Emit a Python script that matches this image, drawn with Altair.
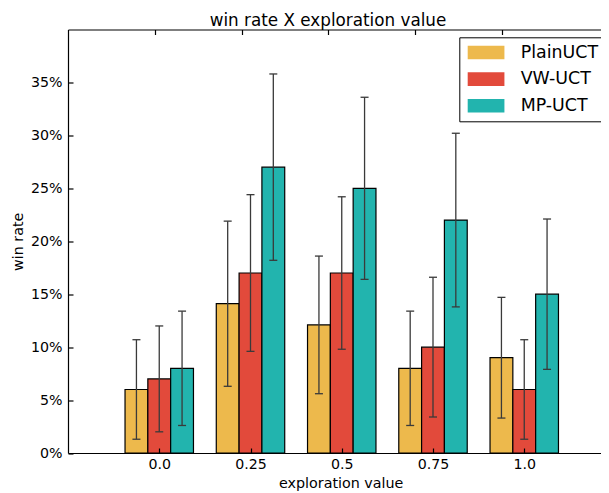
import json
import altair as alt
import pandas as pd

# ---- data ----
explore = [0.0, 0.25, 0.5, 0.75, 1.0]
explore_labels = ["0.0", "0.25", "0.5", "0.75", "1.0"]
methods = ["PlainUCT", "VW-UCT", "MP-UCT"]
colors = ["#EDB94C", "#E24A3B", "#22B4AE"]

plain = [6.0, 14.1, 12.1, 8.0, 9.0]
plain_lo = [1.3, 6.3, 5.6, 2.6, 3.3]
plain_hi = [10.7, 21.9, 18.6, 13.4, 14.7]

vw = [7.0, 17.0, 17.0, 10.0, 6.0]
vw_lo = [2.0, 9.6, 9.8, 3.4, 1.3]
vw_hi = [12.0, 24.4, 24.2, 16.6, 10.7]

mp = [8.0, 27.0, 25.0, 22.0, 15.0]
mp_lo = [2.6, 18.2, 16.4, 13.8, 7.9]
mp_hi = [13.4, 35.8, 33.6, 30.2, 22.1]

y_ticks = [0.0, 0.05, 0.10, 0.15, 0.20, 0.25, 0.30, 0.35]
top_ticks = [-0.0116, 0.2259, 0.4623, 0.7007, 0.9382]

# ---- layout ----
W, H = 533, 423.5
BAR_W = 0.0625
FONT = "DejaVu Sans"

series = [(plain, plain_lo, plain_hi), (vw, vw_lo, vw_hi), (mp, mp_lo, mp_hi)]
rows = []
for k, (name, (vals, los, his)) in enumerate(zip(methods, series)):
    for e, v, lo, hi in zip(explore, vals, los, his):
        xc = e + (k - 1) * BAR_W
        rows.append(dict(method=name, order=k, expl=e, xc=xc,
                         x0=xc - BAR_W / 2, x1=xc + BAR_W / 2,
                         rate=v / 100, lo=lo / 100, hi=hi / 100))
df = pd.DataFrame(rows)

xscale = alt.Scale(domain=[-0.25, -0.25 + W / 365.0], nice=False, zero=False)
yscale = alt.Scale(domain=[0, 0.4], nice=False)

label_expr = "{}[indexof({}, datum.value)]".format(json.dumps(explore_labels), json.dumps(explore))

base = alt.Chart(df)

bars = base.mark_bar(stroke="black", strokeWidth=1.2).encode(
    x=alt.X("x0:Q", scale=xscale,
            axis=alt.Axis(orient="bottom", values=explore, labelExpr=label_expr,
                          title="exploration value", ticks=False, grid=False,
                          domainColor="black", domainWidth=1.2, labelPadding=4,
                          titlePadding=5, titleX=272.7)),
    x2="x1:Q",
    y=alt.Y("rate:Q", scale=yscale,
            axis=alt.Axis(orient="left", values=y_ticks, format=".0%", ticks=False,
                          grid=False, title="win rate", domainColor="black",
                          domainWidth=1.2, labelPadding=6, titlePadding=5)),
    y2=alt.datum(0),
    color=alt.Color("method:N", scale=alt.Scale(domain=methods, range=colors),
                    legend=alt.Legend(
                        title=None, orient="none", legendX=391.3, legendY=7.8,
                        symbolType="M-1,-1H4.4V1H-1Z", symbolSize=185,
                        symbolStrokeWidth=0, labelFontSize=17.4, labelFont=FONT,
                        labelColor="black", labelOffset=37.5, rowPadding=7.6,
                        padding=6.5, strokeColor="black", fillColor="white",
                        cornerRadius=0)),
    order=alt.Order("order:Q"),
)

errs = base.mark_rule(color="#3a3a3a", strokeWidth=1.3).encode(
    x=alt.X("xc:Q", scale=xscale,
            axis=alt.Axis(orient="top", offset=-H, values=explore, labels=False,
                          domain=False, ticks=True, tickSize=5, tickColor="black",
                          tickWidth=1.2, grid=False, title=None, zindex=1)),
    y=alt.Y("lo:Q", scale=yscale,
            axis=alt.Axis(orient="right", offset=-W, values=y_ticks, labels=False,
                          domain=False, ticks=True, tickSize=5, tickColor="black",
                          tickWidth=1.2, grid=False, title=None, zindex=1)),
    y2="hi:Q",
)

caps = base.transform_fold(["lo", "hi"], as_=["end", "val"]).mark_tick(
    orient="horizontal", size=8, thickness=1.3, color="#3a3a3a", opacity=1
).encode(
    x=alt.X("xc:Q", scale=xscale,
            axis=alt.Axis(orient="bottom", offset=-H, values=top_ticks, labels=False,
                          domain=True, domainColor="black", domainWidth=1.2,
                          ticks=True, tickSize=5, tickColor="black", tickWidth=1.2,
                          grid=False, title=None, zindex=1)),
    y=alt.Y("val:Q", scale=yscale, axis=None),
)

chart = alt.layer(bars, errs, caps).resolve_scale(
    x="shared", y="shared"
).resolve_axis(
    x="independent", y="independent"
).properties(
    width=W, height=H,
    autosize=alt.AutoSizeParams(type="none"),
    padding={"left": 60, "top": 21.5, "right": 0, "bottom": 38},
    title=alt.TitleParams("win rate X exploration value", fontSize=16.8, font=FONT,
                          fontWeight="normal", color="black", anchor="middle",
                          dx=-6.5, dy=20, offset=6, baseline="alphabetic"),
).configure_view(stroke=None).configure_axis(
    labelFont=FONT, titleFont=FONT, labelFontSize=14.2, titleFontSize=14.3,
    labelColor="black", titleColor="black", titleFontWeight="normal"
)

chart.save("out.html", embed_options={"renderer": "svg", "actions": False})
